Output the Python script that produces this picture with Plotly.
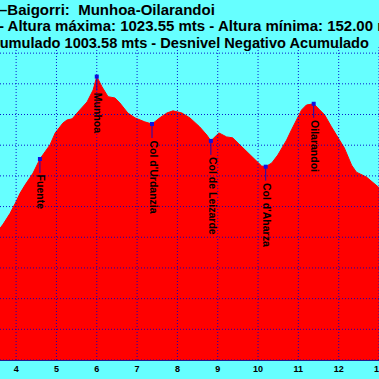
import plotly.graph_objects as go

# Profile (distance km, elevation m)
dist_km = [3.55, 3.60, 3.68, 3.85, 3.98, 4.10, 4.22, 4.42, 4.59, 4.84, 4.97, 5.16, 5.26, 5.39,
           5.58, 5.76, 5.91, 6.00, 6.13, 6.28, 6.45, 6.57, 6.77, 6.95, 7.19, 7.37, 7.56, 7.74,
           7.89, 8.11, 8.31, 8.55, 8.73, 8.83, 9.03, 9.22, 9.37, 9.55, 9.72, 9.87, 9.99, 10.09,
           10.19, 10.34, 10.49, 10.71, 10.83, 10.96, 11.08, 11.20, 11.35, 11.38, 11.53, 11.65,
           11.82, 11.97, 12.14, 12.32, 12.44, 12.69, 12.99, 13.10]
elev_m = [515, 529, 543, 578, 611, 644, 670, 709, 755, 801, 840, 872, 882, 886,
          915, 941, 980, 1023.55, 990, 958, 954, 938, 905, 889, 876, 869, 889, 905,
          912, 905, 889, 860, 833, 814, 840, 827, 824, 801, 778, 761, 745, 732,
          730, 742, 768, 817, 850, 882, 915, 931, 935, 935, 915, 899,
          860, 827, 791, 735, 712, 696, 663, 640]

# Waypoints
wp_names = ["Fuente", "Munhoa", "Col d'Urdanzia", "Col de Leizarde", "Col d'Aharza", "Oilarandoi"]
wp_km = [4.59, 6.00, 7.37, 8.83, 10.19, 11.38]
wp_elev = [755, 1023.55, 869, 814, 730, 935]

# Title lines (visible parts)
title_lines = ["–Baigorri:  Munhoa-Oilarandoi",
               "- Altura máxima: 1023.55 mts - Altura mínima: 152.00 mts",
               "Acumulado 1003.58 mts - Desnivel Negativo Acumulado"]

x_ticks = [4, 5, 6, 7, 8, 9, 10, 11, 12, 13]
y_grid = [100, 200, 300, 400, 500, 600, 700, 800, 900, 1000, 1100]

W, H = 379, 379
ML, MR, MT, MB = 0, 0, 47, 19
BG = "#66FFFF"
FONT = "Liberation Sans, Arial, sans-serif"

fig = go.Figure()
fig.add_trace(go.Scatter(x=dist_km, y=elev_m, mode="lines", fill="tozeroy",
                         line=dict(color="#FF0000", width=1), fillcolor="#FF0000",
                         hoverinfo="skip", showlegend=False))

plot_h = H - MT - MB
yr = [100, 1120]
conn_len = 14 * (yr[1] - yr[0]) / plot_h

fig.add_trace(go.Scatter(x=wp_km, y=wp_elev, mode="markers",
                         marker=dict(color="#1010E0", size=4, symbol="square"),
                         error_y=dict(type="data", symmetric=False,
                                      array=[0] * len(wp_km),
                                      arrayminus=[conn_len] * len(wp_km),
                                      color="#1010C0", thickness=1, width=0),
                         showlegend=False, hoverinfo="skip"))

GRID = dict(color="rgba(0,0,200,0.9)", width=1, dash="1px,2px")
shapes = []
for xv in x_ticks:
    shapes.append(dict(type="line", xref="x", yref="paper", x0=xv, x1=xv, y0=0, y1=1,
                       line=GRID, layer="above"))
for yv in y_grid:
    shapes.append(dict(type="line", xref="paper", yref="y", x0=0, x1=1, y0=yv, y1=yv,
                       line=GRID, layer="above"))

annotations = []
for name, xk, ye in zip(wp_names, wp_km, wp_elev):
    annotations.append(dict(x=xk, y=ye, xref="x", yref="y", text=name, textangle=90,
                            showarrow=False, xanchor="center", yanchor="top",
                            xshift=2, yshift=-14,
                            font=dict(family=FONT, size=10.5, color="black", weight="bold")))

title_px_y = [9.5, 26.0, 42.5]
title_px_x = [-3, -3, -21.5]
title_size = [15, 15, 14.6]
for txt, py, px, fs in zip(title_lines, title_px_y, title_px_x, title_size):
    annotations.append(dict(x=px / (W - ML - MR), y=(H - MB - py) / plot_h,
                            xref="paper", yref="paper", text=txt, showarrow=False,
                            xanchor="left", yanchor="middle",
                            font=dict(family=FONT, size=fs, color="black", weight="bold")))

fig.update_layout(
    width=W, height=H, margin=dict(l=ML, r=MR, t=MT, b=MB, autoexpand=False),
    paper_bgcolor=BG, plot_bgcolor=BG,
    shapes=shapes, annotations=annotations, showlegend=False,
    xaxis=dict(range=[3.6, 13.0], tickvals=x_ticks, showgrid=False, zeroline=False,
               showline=True, linecolor="#202090", linewidth=1, ticks="",
               ticklabeloverflow="allow", automargin=False,
               tickfont=dict(family=FONT, size=9, color="black", weight="bold")),
    yaxis=dict(range=yr, showgrid=False, zeroline=False, showticklabels=False,
               automargin=False),
)

fig.write_html("out.html", config={"displayModeBar": False},
               post_script="document.body.style.margin='0';document.body.style.overflow='hidden';")
